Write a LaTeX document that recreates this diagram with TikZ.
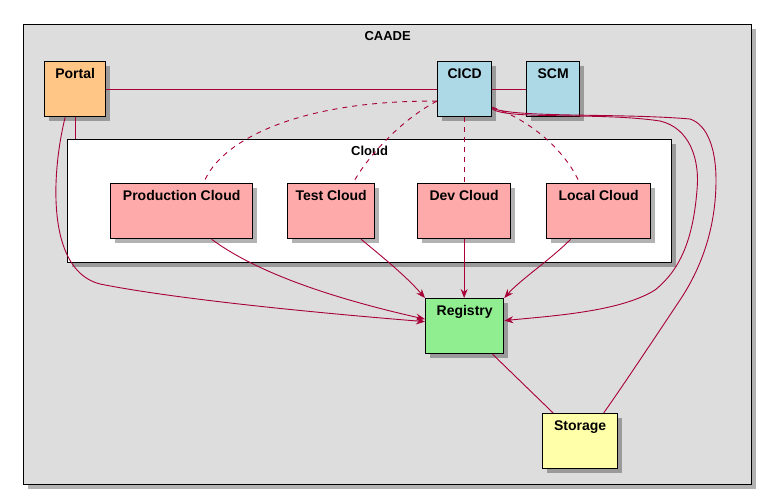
\documentclass[tikz,border=0pt]{standalone}
\usepackage{fontspec}
\setmainfont{Liberation Sans}
\usepackage{tikz}
\usetikzlibrary{positioning,arrows.meta,calc,shadows}
\definecolor{cLink}{RGB}{168,0,54}
\definecolor{cBack}{RGB}{221,221,221}
\definecolor{cPortal}{RGB}{255,198,133}
\definecolor{cCicd}{RGB}{173,216,230}
\definecolor{cCloud}{RGB}{255,170,170}
\definecolor{cReg}{RGB}{144,238,144}
\definecolor{cStore}{RGB}{255,255,170}

\begin{document}
\begin{tikzpicture}[x=1pt,y=-1pt,
   shade/.style={drop shadow={shadow xshift=4pt,shadow yshift=-4pt,fill=black,opacity=0.3}},
   comp/.style={draw,line width=1.3pt,shade,anchor=north west,font=\fontsize{14pt}{16pt}\selectfont\bfseries,
     text height=10pt,text depth=32pt,inner xsep=0pt,inner ysep=6.5pt},
   frame/.style={draw,line width=1.3pt,shade,anchor=north west,font=\fontsize{13pt}{15pt}\selectfont\bfseries,
     text height=10pt,inner xsep=0pt,inner ysep=6pt},
   link/.style={draw=cLink,line width=0.9pt},
   arr/.style={link,-{Stealth[length=9pt,width=7pt,inset=3pt]}},
   dep/.style={link,dash pattern=on 5pt off 5pt}]
 \fill[white] (0,0) rectangle (780,494);
 \useasboundingbox (0,0) rectangle (780,494);
 % containers
 \node[frame,fill=cBack,minimum width=728pt,text depth=438pt] (caade) at (23,24) {CAADE};
 \node[frame,fill=white,minimum width=604pt,text depth=101pt] (cloud) at (67,139) {Cloud};
 % components
 \node[comp,fill=cPortal,minimum width=61pt] (portal) at (44,61) {Portal};
 \node[comp,fill=cCicd,minimum width=54pt] (cicd) at (437,61) {CICD};
 \node[comp,fill=cCicd,minimum width=53pt] (scm) at (526,61) {SCM};
 \node[comp,fill=cCloud,minimum width=142pt] (prodcloud) at (110,183) {Production Cloud};
 \node[comp,fill=cCloud,minimum width=87pt] (testcloud) at (287,183) {Test Cloud};
 \node[comp,fill=cCloud,minimum width=93pt] (devcloud) at (417,183) {Dev Cloud};
 \node[comp,fill=cCloud,minimum width=104pt] (localcloud) at (546,183) {Local Cloud};
 \node[comp,fill=cReg,minimum width=78pt] (registry) at (425,298) {Registry};
 \node[comp,fill=cStore,minimum width=75pt] (storage) at (542,413) {Storage};
 % plain links
 \draw[link] (portal.east) -- (cicd.west);
 \draw[link] (cicd.east) -- (scm.west);
 \draw[link] (portal.south) -- (portal.south |- cloud.north);
 \draw[link] ([xshift=28pt]registry.south) -- ([xshift=-27pt]storage.north);
 % CICD deploys to every cloud
 \draw[dep] ([yshift=-12pt]cicd.west) .. controls (300,100) and (220,140) .. ([xshift=22pt]prodcloud.north);
 \draw[dep] ([yshift=-12pt]cicd.west) .. controls (400,120) and (365,160) .. ([xshift=22pt]testcloud.north);
 \draw[dep] (cicd.south) -- (cicd.south |- devcloud.north);
 \draw[dep] ([yshift=-18pt]cicd.east) .. controls (530,120) and (565,150) .. ([xshift=-19pt]localcloud.north);
 % clouds pull from the registry
 \draw[arr] ([xshift=30pt]prodcloud.south) .. controls (260,275) and (340,300) .. ([yshift=7pt]registry.west);
 \draw[arr] ([xshift=30pt]testcloud.south) .. controls (380,255) and (405,275) .. (registry.north west);
 \draw[arr] (devcloud.south) -- (devcloud.south |- registry.north);
 \draw[arr] ([xshift=-28pt]localcloud.south) .. controls (550,260) and (520,280) .. (registry.north east);
 \draw[arr] ([xshift=-10pt]portal.south) .. controls (52,170) and (45,270) .. (100,284)
   .. controls (180,300) and (330,314) .. ([yshift=4.5pt]registry.west);
 % long curves on the right
 \draw[arr] ([yshift=-20pt]cicd.east) .. controls (510,120) and (600,112) .. (660,121)
   .. controls (690,128) and (700,160) .. (697,190)
   .. controls (693,240) and (680,270) .. (655,290)
   .. controls (620,312) and (550,316) .. ([yshift=5.5pt]registry.east);
 \draw[link] ([yshift=-19pt]cicd.east) .. controls (515,118) and (620,113) .. (690,119)
   .. controls (708,125) and (716,150) .. (716,180)
   .. controls (716,230) and (700,270) .. (680,300)
   .. controls (650,345) and (620,390) .. ([xshift=23.5pt]storage.north);
\end{tikzpicture}
\end{document}
